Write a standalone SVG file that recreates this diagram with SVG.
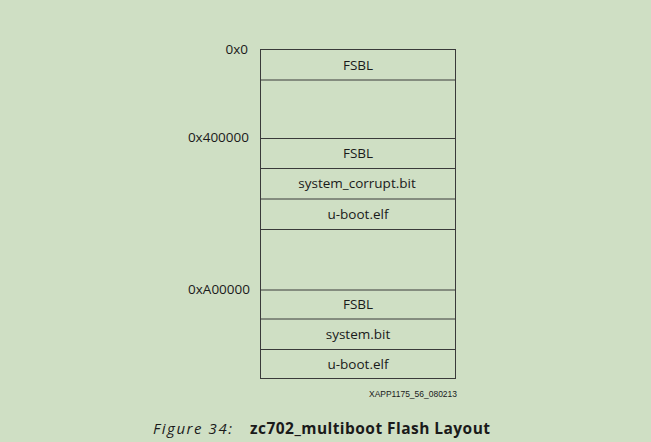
<svg xmlns="http://www.w3.org/2000/svg" width="651" height="442" viewBox="0 0 651 442">
<style>
.box{fill:none;stroke:#3a3a3a;stroke-width:1}
.t{font-family:"Open Sans","Noto Sans",sans-serif;font-size:13.5px;fill:#1a1a1a;text-anchor:middle}
.a{font-family:"Open Sans","Noto Sans",sans-serif;font-size:13.5px;fill:#1a1a1a;text-anchor:end}
</style>
<rect width="651" height="442" fill="#cfdfc4"/>
<g id="addresses">
<text class="a" x="248" y="54">0x0</text>
<text class="a" x="249" y="142">0x400000</text>
<text class="a" x="250" y="294">0xA00000</text>
</g>
<g id="flash">
<rect class="box" x="260.5" y="49.5" width="195" height="329"/>
<g class="box">
<line x1="260.5" y1="80" x2="455.5" y2="80"/>
<line x1="260.5" y1="138.5" x2="455.5" y2="138.5"/>
<line x1="260.5" y1="168.5" x2="455.5" y2="168.5"/>
<line x1="260.5" y1="199" x2="455.5" y2="199"/>
<line x1="260.5" y1="229.5" x2="455.5" y2="229.5"/>
<line x1="260.5" y1="290" x2="455.5" y2="290"/>
<line x1="260.5" y1="319" x2="455.5" y2="319"/>
<line x1="260.5" y1="349.5" x2="455.5" y2="349.5"/>
</g>
</g>
<g id="n1"><text class="t" x="358" y="70">FSBL</text></g>
<g id="n2"><text class="t" x="358" y="158">FSBL</text></g>
<g id="n3"><text class="t" x="357" y="188">system_corrupt.bit</text></g>
<g id="n4"><text class="t" x="358" y="219">u-boot.elf</text></g>
<g id="n5"><text class="t" x="358" y="309">FSBL</text></g>
<g id="n6"><text class="t" x="358" y="339">system.bit</text></g>
<g id="n7"><text class="t" x="358" y="369">u-boot.elf</text></g>
<text x="369" y="397" font-family="Liberation Sans, Arial, sans-serif" font-size="8.4" fill="#1a1a1a" textLength="88" lengthAdjust="spacingAndGlyphs">XAPP1175_56_080213</text>
<text x="153" y="434" font-family="Open Sans, Noto Sans, sans-serif" font-size="15" font-style="italic" fill="#1a1a1a" textLength="79" lengthAdjust="spacing">Figure 34:</text>
<text x="250" y="434" font-family="Open Sans, Noto Sans, sans-serif" font-size="15.5" font-weight="bold" fill="#1a1a1a" textLength="240" lengthAdjust="spacing">zc702_multiboot Flash Layout</text>
</svg>
